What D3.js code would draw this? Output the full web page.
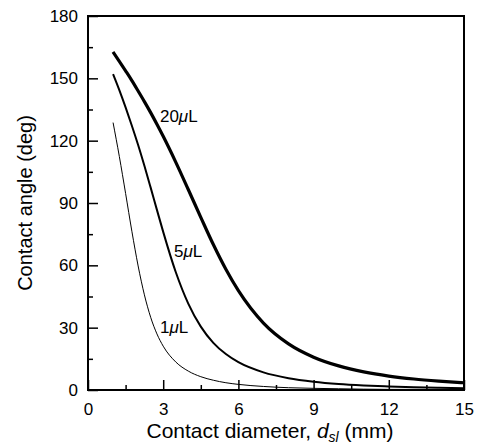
<!DOCTYPE html>
<html>
<head>
<meta charset="utf-8">
<script src="https://cdn.jsdelivr.net/npm/d3@7/dist/d3.min.js"></script>
<style>
  body { margin: 0; background: #fff; }
  text { font-family: Arial, "Liberation Sans", sans-serif; }
</style>
</head>
<body>
<svg id="chart" width="483" height="446"></svg>
<script>
// contact diameter (mm)
var diameters = [1, 1.25, 1.5, 1.75, 2, 2.25, 2.5, 2.75, 3, 3.5, 4, 4.5, 5, 5.5, 6, 7, 8, 9, 10, 11, 12, 13, 14, 15];
// contact angle (deg) for each droplet volume
var angle20 = [162.7, 158.2, 153.6, 148.9, 143.9, 138.8, 133.5, 127.9, 122.1, 109.7, 96.5, 83.1, 70.0, 58.1, 47.8, 32.2, 22.2, 15.8, 11.6, 8.7, 6.7, 5.3, 4.3, 3.5];
var angle5  = [152.0, 144.3, 136.0, 127.2, 117.9, 107.9, 97.4, 86.7, 76.1, 56.8, 41.6, 30.5, 22.7, 17.3, 13.4, 8.5, 5.7, 4.0, 2.9, 2.2, 1.7, 1.3, 1.1, 0.9];
var angle1  = [128.7, 112.4, 94.6, 76.4, 59.7, 45.8, 35.0, 27.0, 21.1, 13.5, 9.1, 6.4, 4.7, 3.5, 2.7, 1.7, 1.1, 0.8, 0.6, 0.4, 0.3, 0.3, 0.2, 0.2];

var xTicks = [0, 3, 6, 9, 12, 15];
var xMinor = [1.5, 4.5, 7.5, 10.5, 13.5];
var yTicks = [0, 30, 60, 90, 120, 150, 180];
var yMinor = [15, 45, 75, 105, 135, 165];

var seriesNames = ["20", "5", "1"];
var labelPos = [[2.87, 129], [3.43, 64], [2.87, 27.4]];

var svg = d3.select("#chart"),
    margin = {top: 16, right: 19, bottom: 56, left: 88},
    width = +svg.attr("width") - margin.left - margin.right,
    height = +svg.attr("height") - margin.top - margin.bottom,
    g = svg.append("g").attr("transform", "translate(" + margin.left + "," + margin.top + ")");

var x = d3.scaleLinear().domain([0, 15]).range([0, width]);
var y = d3.scaleLinear().domain([0, 180]).range([height, 0]);

var series = [
  {name: seriesNames[0], values: angle20, w: 3.2},
  {name: seriesNames[1], values: angle5, w: 2},
  {name: seriesNames[2], values: angle1, w: 1}
];

var line = d3.line()
    .x(function(d) { return x(d[0]); })
    .y(function(d) { return y(d[1]); })
    .curve(d3.curveMonotoneX);

// axes with inward ticks
g.append("g")
    .attr("transform", "translate(0," + height + ")")
    .call(d3.axisBottom(x).tickValues(xTicks).tickSize(-10).tickPadding(13).tickFormat(d3.format("d")))
    .call(customAxis);

g.append("g")
    .attr("transform", "translate(0," + height + ")")
    .call(d3.axisBottom(x).tickValues(xMinor).tickSize(-5).tickFormat(""))
    .call(customAxis);

g.append("g")
    .call(d3.axisLeft(y).tickValues(yTicks).tickSize(-10).tickPadding(10).tickFormat(d3.format("d")))
    .call(customAxis);

g.append("g")
    .call(d3.axisLeft(y).tickValues(yMinor).tickSize(-5).tickFormat(""))
    .call(customAxis);

function customAxis(a) {
  a.select(".domain").remove();
  a.selectAll(".tick line").attr("stroke", "#000").attr("stroke-width", 1.5);
  a.selectAll(".tick text").attr("fill", "#000").attr("font-size", 17)
    .attr("font-family", "Arial, 'Liberation Sans', sans-serif");
}

// frame
g.append("rect")
    .attr("x", 0).attr("y", 0)
    .attr("width", width).attr("height", height)
    .attr("fill", "none")
    .attr("stroke", "#000")
    .attr("stroke-width", 2);

g.selectAll(".curve")
    .data(series)
  .enter().append("path")
    .attr("class", "curve")
    .attr("fill", "none")
    .attr("stroke", "#000")
    .attr("stroke-width", function(s) { return s.w; })
    .attr("d", function(s) {
      return line(diameters.map(function(dd, i) { return [dd, s.values[i]]; }));
    });

// curve labels
var lab = g.selectAll(".lab")
    .data(series)
  .enter().append("text")
    .attr("class", "lab")
    .attr("x", function(s, i) { return x(labelPos[i][0]); })
    .attr("y", function(s, i) { return y(labelPos[i][1]); })
    .attr("font-size", 17)
    .attr("fill", "#000");
lab.append("tspan").text(function(s) { return s.name; });
lab.append("tspan").attr("font-style", "italic").text("\u03bc");
lab.append("tspan").text("L");

// axis titles
var xt = svg.append("text")
    .attr("x", 270)
    .attr("y", 438)
    .attr("text-anchor", "middle")
    .attr("font-size", 21)
    .attr("fill", "#000");
xt.append("tspan").text("Contact diameter, ");
xt.append("tspan").attr("font-style", "italic").text("d");
xt.append("tspan").attr("font-style", "italic").attr("font-size", 14).attr("dy", 4).text("sl");
xt.append("tspan").attr("dy", -4).text(" (mm)");

svg.append("text")
    .attr("transform", "translate(32," + (margin.top + height / 2) + ") rotate(-90)")
    .attr("text-anchor", "middle")
    .attr("font-size", 20)
    .attr("fill", "#000")
    .text("Contact angle (deg)");
</script>
</body>
</html>
